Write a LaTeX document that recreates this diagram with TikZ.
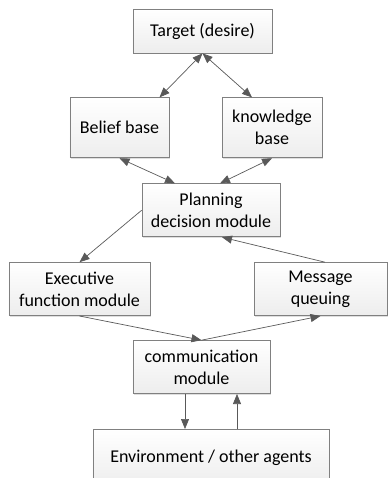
\documentclass[tikz,border=0pt]{standalone}
\usepackage{fontspec}
\setmainfont{Carlito}
\usepackage{tikz}
\usetikzlibrary{positioning, arrows.meta, shadows}

\definecolor{boxline}{HTML}{808080}
\definecolor{arrowline}{HTML}{595959}

\begin{document}
\begin{tikzpicture}[node distance=25pt, auto,
    every node/.style={rectangle, draw=boxline, line width=0.8pt, top color=white, bottom color=gray!14,
      drop shadow={shadow xshift=1pt, shadow yshift=-1pt, opacity=0.25},
      minimum height=53pt, align=center, inner sep=2pt,
      font=\fontsize{18}{22}\selectfont},
    link/.style={draw=arrowline, line width=0.7pt, -{Triangle[length=10pt, width=8pt]}},
    bilink/.style={link, {Triangle[length=10pt, width=8pt]}-{Triangle[length=10pt, width=8pt]}}]
    \useasboundingbox (-202.5pt,31pt) rectangle (185.5pt,-447pt);
    \node (target) [minimum width=139pt, minimum height=44pt] {Target (desire)};
    \node (belief) [below=44pt of target, xshift=-83pt, minimum width=99pt, minimum height=60pt] {Belief base};
    \node (knowledge) [below=44pt of target, xshift=69.5pt, minimum width=100pt, minimum height=60pt] {knowledge\\base};
    \node (planning) [below=130pt of target, xshift=8.5pt, minimum width=138pt] {Planning\\decision module};
    \node (executive) [below=of planning, xshift=-131.5pt, minimum width=141pt] {Executive\\function module};
    \node (message) [below=of planning, xshift=109.5pt, minimum width=133pt] {Message\\queuing};
    \node (comm) [below=103pt of planning, xshift=-9.5pt, minimum width=137pt] {communication\\module};
    \node (env) [below=35pt of comm, xshift=9.5pt, minimum width=236pt, minimum height=57pt] {Environment / other agents};
    % arrows between modules
    \draw[bilink] (target.south) -- ([xshift=40pt]belief.north);
    \draw[bilink] (target.south) -- ([xshift=-20pt]knowledge.north);
    \draw[bilink] (belief.south) -- ([xshift=-36pt]planning.north);
    \draw[bilink] (knowledge.south) -- ([xshift=9pt]planning.north);
    \draw[link] (planning.west) -- (executive.north);
    \draw[link] ([xshift=4.5pt]message.north) -- ([xshift=11pt]planning.south);
    \draw[link] (executive.south) -- (comm.north);
    \draw[link] (comm.north) -- (message.south);
    \draw[link] ([xshift=-16.5pt]comm.south) -- ([xshift=-16.5pt]comm.south |- env.north);
    \draw[link] ([xshift=35.5pt]comm.south |- env.north) -- ([xshift=35.5pt]comm.south);
\end{tikzpicture}
\end{document}
